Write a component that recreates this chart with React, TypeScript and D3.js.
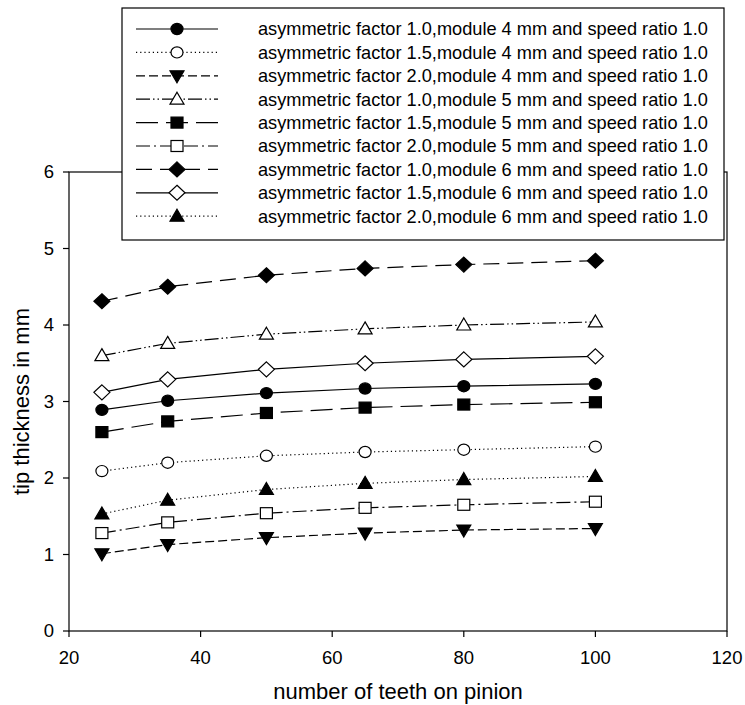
import React from "react";
import * as d3 from "d3";

const teeth = [25, 35, 50, 65, 80, 100];

const s1 = [2.89, 3.01, 3.11, 3.17, 3.2, 3.23];
const s2 = [2.09, 2.2, 2.29, 2.34, 2.37, 2.41];
const s3 = [1.01, 1.13, 1.22, 1.28, 1.32, 1.34];
const s4 = [3.6, 3.76, 3.88, 3.95, 4.0, 4.04];
const s5 = [2.6, 2.74, 2.85, 2.92, 2.96, 2.99];
const s6 = [1.28, 1.42, 1.54, 1.61, 1.65, 1.69];
const s7 = [4.31, 4.5, 4.65, 4.74, 4.79, 4.84];
const s8 = [3.12, 3.29, 3.42, 3.5, 3.55, 3.59];
const s9 = [1.53, 1.71, 1.85, 1.93, 1.98, 2.02];

const labels = [
  "asymmetric factor 1.0,module 4 mm and speed ratio 1.0",
  "asymmetric factor 1.5,module 4 mm and speed ratio 1.0",
  "asymmetric factor 2.0,module 4 mm and speed ratio 1.0",
  "asymmetric factor 1.0,module 5 mm and speed ratio 1.0",
  "asymmetric factor 1.5,module 5 mm and speed ratio 1.0",
  "asymmetric factor 2.0,module 5 mm and speed ratio 1.0",
  "asymmetric factor 1.0,module 6 mm and speed ratio 1.0",
  "asymmetric factor 1.5,module 6 mm and speed ratio 1.0",
  "asymmetric factor 2.0,module 6 mm and speed ratio 1.0",
];

const xTicks = [20, 40, 60, 80, 100, 120];
const yTicks = [0, 1, 2, 3, 4, 5, 6];

type Style = { dash: string; shape: string; fill: boolean };
const styles: Style[] = [
  { dash: "", shape: "circle", fill: true },
  { dash: "1.2,3", shape: "circle", fill: false },
  { dash: "9,4", shape: "tridown", fill: true },
  { dash: "14,3,1.5,3,1.5,3", shape: "triup", fill: false },
  { dash: "22,8", shape: "square", fill: true },
  { dash: "14,4,2,4", shape: "square", fill: false },
  { dash: "16,8", shape: "diamond", fill: true },
  { dash: "", shape: "diamond", fill: false },
  { dash: "1.2,3", shape: "triup", fill: true },
];
const series = [s1, s2, s3, s4, s5, s6, s7, s8, s9];

const W = 745;
const H = 705;
const left = 69;
const right = 727;
const top = 172;
const bottom = 631;

function Marker({ x, y, st }: { x: number; y: number; st: Style }) {
  const fill = st.fill ? "#000" : "#fff";
  const common = { fill, stroke: "#000", strokeWidth: 1.2 };
  if (st.shape === "circle") return <ellipse cx={x} cy={y} rx={6} ry={5.6} {...common} />;
  if (st.shape === "square") return <rect x={x - 6} y={y - 5.5} width={12} height={11} {...common} />;
  if (st.shape === "diamond")
    return <path d={`M${x},${y - 7.5}L${x + 8},${y}L${x},${y + 7.5}L${x - 8},${y}Z`} {...common} />;
  if (st.shape === "triup")
    return <path d={`M${x},${y - 7}L${x + 7},${y + 5}L${x - 7},${y + 5}Z`} {...common} />;
  return <path d={`M${x},${y + 7}L${x + 7},${y - 5}L${x - 7},${y - 5}Z`} {...common} />;
}

export default function App() {
  const x = d3.scaleLinear().domain([20, 120]).range([left, right]);
  const y = d3.scaleLinear().domain([0, 6]).range([bottom, top]);
  const line = d3
    .line<number>()
    .x((_, i) => x(teeth[i]))
    .y((d) => y(d));
  const font = "Liberation Sans, Arial, sans-serif";
  const legX = 122;
  const legY = 8;
  const legW = 602;
  const legH = 232;
  const rowY0 = 29;
  const rowStep = 23.4;

  return (
    <svg width={W} height={H} style={{ position: "absolute", left: 0, top: 0 }} fontFamily={font}>
      <rect width={W} height={H} fill="#fff" />
      <rect x={left} y={top} width={right - left} height={bottom - top} fill="none" stroke="#000" strokeWidth={1.2} />
      {yTicks.map((t) => (
        <g key={"y" + t}>
          <line x1={left - 6} x2={left} y1={y(t)} y2={y(t)} stroke="#000" strokeWidth={1.2} />
          <text x={left - 15} y={y(t)} dy="0.35em" textAnchor="end" fontSize={18.5}>
            {t}
          </text>
        </g>
      ))}
      {xTicks.map((t) => (
        <g key={"x" + t}>
          <line x1={x(t)} x2={x(t)} y1={bottom} y2={bottom + 6} stroke="#000" strokeWidth={1.2} />
          <text x={x(t)} y={658} dy="0.35em" textAnchor="middle" fontSize={18.5}>
            {t}
          </text>
        </g>
      ))}
      <text x={(left + right) / 2} y={699} textAnchor="middle" fontSize={22}>
        number of teeth on pinion
      </text>
      <text
        transform={`translate(21,${(top + bottom) / 2}) rotate(-90)`}
        dy="0.35em"
        textAnchor="middle"
        fontSize={22}
      >
        tip thickness in mm
      </text>
      {series.map((s, i) => (
        <g key={"s" + i}>
          <path d={line(s) || ""} fill="none" stroke="#000" strokeWidth={1.2} strokeDasharray={styles[i].dash} />
          {s.map((v, j) => (
            <Marker key={j} x={x(teeth[j])} y={y(v)} st={styles[i]} />
          ))}
        </g>
      ))}
      <rect x={legX} y={legY} width={legW} height={legH} fill="#fff" stroke="#000" strokeWidth={1.2} />
      {labels.map((lab, i) => {
        const yy = rowY0 + i * rowStep;
        return (
          <g key={"l" + i}>
            <line x1={136} x2={218} y1={yy} y2={yy} stroke="#000" strokeWidth={1.2} strokeDasharray={styles[i].dash} />
            <Marker x={177} y={yy} st={styles[i]} />
            <text x={258} y={yy} dy="0.35em" fontSize={18.2}>
              {lab}
            </text>
          </g>
        );
      })}
    </svg>
  );
}
